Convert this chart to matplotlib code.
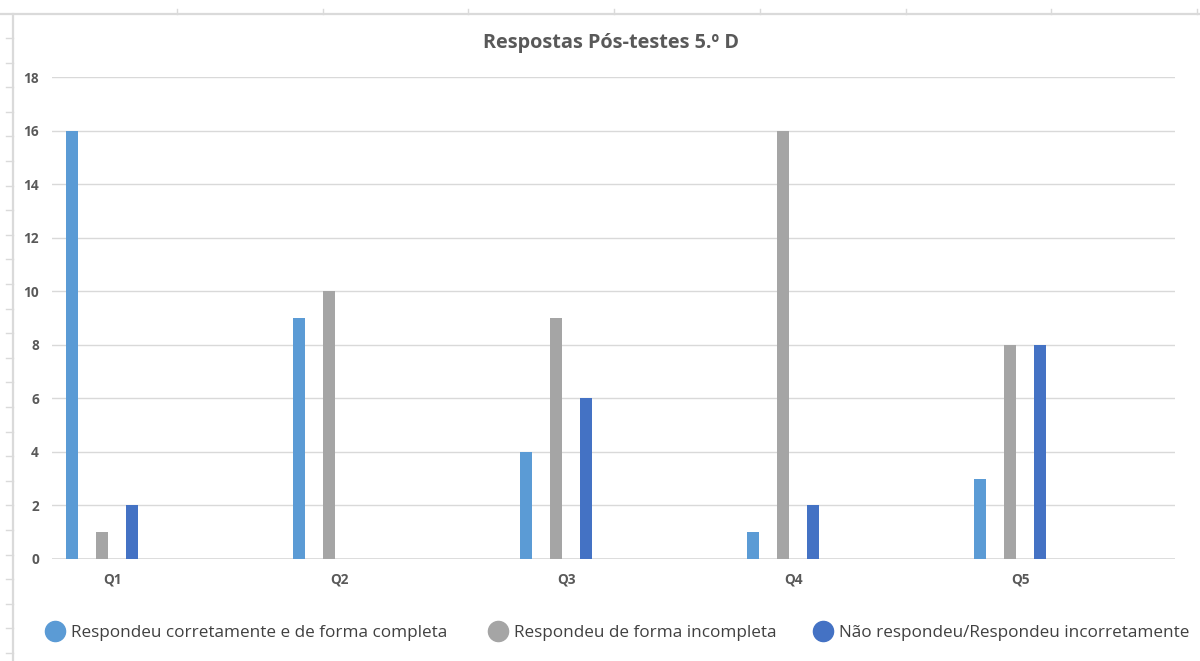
import matplotlib
matplotlib.use("Agg")
import matplotlib.pyplot as plt
from matplotlib.lines import Line2D
import numpy as np

# Chart data
categories = ["Q1", "Q2", "Q3", "Q4", "Q5"]
series_names = [
    "Respondeu corretamente e de forma completa",
    "Respondeu de forma incompleta",
    "Não respondeu/Respondeu incorretamente",
]
correct_complete = [16, 9, 4, 1, 3]
incomplete = [1, 10, 9, 16, 8]
no_answer_wrong = [2, 0, 6, 2, 8]
y_ticks = [0, 2, 4, 6, 8, 10, 12, 14, 16, 18]

colors = ["#5B9BD5", "#A5A5A5", "#4472C4"]
label_color = "#595959"
grid_color = "#D9D9D9"

W, H = 1200, 661
fig = plt.figure(figsize=(W / 100, H / 100), dpi=100)
fig.patch.set_facecolor("white")

# Spreadsheet grid behind the chart object
sheet_color = "#DADADA"
fig.add_artist(Line2D([0, 1], [1 - 14 / H, 1 - 14 / H], transform=fig.transFigure,
                      color=sheet_color, lw=1.6))
fig.add_artist(Line2D([13 / W, 13 / W], [0, 1 - 14 / H], transform=fig.transFigure,
                      color=sheet_color, lw=1.6))
for yp in np.arange(38, H, 24.6):
    fig.add_artist(Line2D([6 / W, 13 / W], [1 - yp / H, 1 - yp / H],
                          transform=fig.transFigure, color=sheet_color, lw=1.0))
for xp in np.arange(177, W, 145.7):
    fig.add_artist(Line2D([xp / W, xp / W], [1 - 14 / H, 1 - 9 / H],
                          transform=fig.transFigure, color=sheet_color, lw=1.0))

left, right, top, bottom = 52, 1175, 77, 559
ax = fig.add_axes([left / W, 1 - bottom / H, (right - left) / W, (bottom - top) / H])

x = np.arange(len(categories))
offset = 0.132
bw = 0.054
for i, (vals, name) in enumerate(zip([correct_complete, incomplete, no_answer_wrong], series_names)):
    ax.bar(x + (i - 1) * offset, vals, width=bw, color=colors[i], label=name, zorder=3)

ax.set_ylim(0, 18)
ax.set_xlim(-0.22, 4.727)
ax.set_yticks(y_ticks)
ax.yaxis.grid(True, color=grid_color, lw=1.0, zorder=0)
for s in ax.spines.values():
    s.set_visible(False)
ax.axhline(0, color=grid_color, lw=1.2, zorder=1)
ax.tick_params(axis="both", length=0)
ax.tick_params(axis="y", pad=9.5)
ax.tick_params(axis="x", pad=10)
ax.set_xticks(x + 0.045)
ax.set_xticklabels(categories)
for lab in ax.get_xticklabels() + ax.get_yticklabels():
    lab.set_fontfamily("Open Sans")
    lab.set_fontweight("bold")
    lab.set_fontsize(9.8)
    lab.set_color(label_color)

fig.text(611 / W, 1 - 43 / H, "Respostas Pós-testes 5.º D", ha="center", va="center",
         fontfamily="Open Sans", fontweight="bold", fontsize=14.3, color=label_color)

# One legend entry per series, placed along the bottom
marker_x = [55, 498, 823]
for c, name, mx in zip(colors, series_names, marker_x):
    h = Line2D([], [], marker="o", ls="none", markersize=14.5, markerfacecolor=c,
               markeredgecolor=c)
    leg = fig.legend([h], [name], loc="center left",
                     bbox_to_anchor=((mx - 10) / W, 1 - 633 / H),
                     frameon=False, handletextpad=0.35, handlelength=1.2,
                     prop={"family": "Open Sans", "size": 12.3},
                     borderaxespad=0, borderpad=0)
    for t in leg.get_texts():
        t.set_color("#404040")

fig.savefig("out.png", dpi=100)
